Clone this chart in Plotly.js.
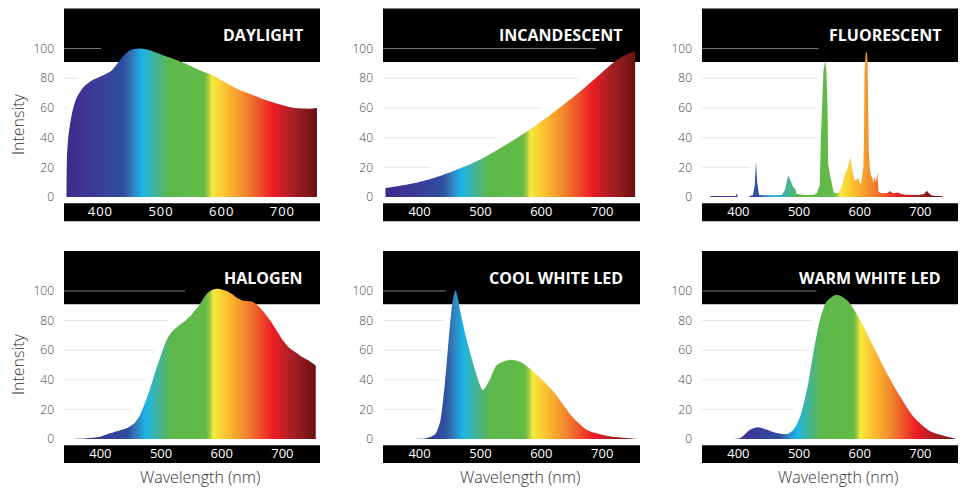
<!DOCTYPE html>
<html><head><meta charset="utf-8">
<script src="https://cdn.plot.ly/plotly-3.0.1.min.js"></script>
<style>
html,body{margin:0;padding:0;background:#fff;}
#chart{width:964px;height:488px;}
.xtick text{letter-spacing:1px;}
</style>
</head><body><div id="chart"></div>
<script>
// ---- data ----
const panelTitles = ['DAYLIGHT','INCANDESCENT','FLUORESCENT','HALOGEN','COOL WHITE LED','WARM WHITE LED'];
const xTickVals = [400, 500, 600, 700];
const yTickVals = [0, 20, 40, 60, 80, 100];

const daylightX = [344,345,347,353,361,372,386,405,418,430,440,450,462,475,484,500,521,545,566,587,605,620,636,652,675,690,708,720,734,745,757];
const daylightY = [0,28,40,56,67,74,78.5,82,85,91,96,99,100,99.5,98.5,96,93,89,85,81.6,77.5,74,71,68.6,65,63,61,60,59.6,59.5,60];

const incandX = [344,370,398,425,452,480,508,535,562,590,616,645,672,695,715,735,748,754];
const incandY = [6,7.7,10,13,16.8,21.5,27,33.5,40.3,48,55.8,65,74,82.2,89.5,95,97.3,98];

const fluorX = [354,396,397,398,399,418,419,424,427,429,431,434,440,460,472,477,480,482,486,490,494,496,510,525,530,534,536,538,540,543,545,547,548,551,554,557,562,566,570,574,576,579,581,583,585,587,589,592,595,597,600,602,604,606,607,608,610,612,613,614,615,617,619,621,622,624,626,628,629,631,636,645,650,655,663,668,675,697,706,709,711,714,718,724,737];
const fluorY = [0.6,0.6,2.7,0.6,0,0,0.8,1.2,8,23.7,10,1.5,1.2,1.2,1.5,5,12,14.8,11,7,5,2,1.3,1.5,3,8,40,70,84,92,85,60,22,15,8,3,2.5,3,6.5,12,16,18,22,24,27,19,16,11,12,13,10,8.5,14,20,40,85,97.5,97,90,64,30,18,14,13,9,14,10,13,16.5,3.5,2.5,2.5,4,2.5,3,2,1.5,1.3,2,3.5,4,2.5,1.2,0.7,0.5];

const halogenX = [353,377,399,416,430,443,452,457,465,476,485,493,501,509,517,526,537,548,556,564,570,575,583,592,600,608,617,625,635,645,652,660,668,680,691,702,713,724,734,745,755];
const halogenY = [0,0.5,1.5,3.8,5.5,7.2,9.5,11,16,27,38,48.6,58,66.7,72,75.5,79,83,87,91,95,98,100.5,101.5,101,100,98,95.5,93.5,93,92.5,90,86.5,80,73,66,61,58,55,52.5,49.5];

const coolX = [347,387,412,426,434,442,450,455,459,463,467,478,492,504,514,527,549,566,587,620,653,676,709,758];
const coolY = [0,0,0.7,3.4,12,39,77,95,100.5,95,86,66,45.5,33,39,50,53.6,52,45.5,32,14,5.9,2,0];

const warmX = [381,403,419,433,447,463,480,491,502,513,523.5,534.5,545.6,562,578.5,600.5,622.4,644.5,666.4,688,716,760];
const warmY = [0,0.7,6.3,8,6.3,4.1,3.4,6.3,15.3,33.3,58,80.6,93,97.5,94,80.6,62.6,44.6,28.8,15.3,5.2,0];

const seriesX = [daylightX, incandX, fluorX, halogenX, coolX, warmX];
const seriesY = [daylightY, incandY, fluorY, halogenY, coolY, warmY];

// ---- style ----
const smoothPanels = [true, true, false, true, true, true];
const gradientSpan = [null, null, [342, 732], null, null, null];
const spectrum = [
  [0.00,'#40298c'],[0.12,'#3a3c98'],[0.23,'#2f4f9f'],[0.26,'#3577b7'],
  [0.303,'#1ab5e7'],[0.35,'#3fb3a2'],[0.41,'#5cb84a'],[0.55,'#63ba46'],
  [0.567,'#a5cc42'],[0.58,'#f4ea3b'],[0.63,'#fdc430'],[0.71,'#f38a2c'],
  [0.825,'#ec1d25'],[0.91,'#a21f22'],[1.00,'#6a1010']
];
const XR = [340, 762], YR = [0, 127];
const colDom = [[64,320],[383,640],[702,958]];
const rowDom = [[197,8.5],[439,251]];
const W = 964, H = 488;
const FONT = '"Open Sans", "Liberation Sans", sans-serif';

function crossX(xs, ys, lvl){
  for(let i=0;i<xs.length;i++){
    if(ys[i] >= lvl){
      if(i===0) return xs[0];
      const t = (lvl - ys[i-1])/(ys[i]-ys[i-1]);
      return xs[i-1] + t*(xs[i]-xs[i-1]);
    }
  }
  return null;
}

const traces = [], shapes = [], annotations = [];
const layout = {
  width: W, height: H, margin:{l:0,r:0,t:0,b:0},
  paper_bgcolor:'#fff', plot_bgcolor:'rgba(0,0,0,0)',
  showlegend:false, hovermode:false, font:{family:FONT}
};

for(let p=0;p<6;p++){
  const r = Math.floor(p/3), c = p%3, n = p+1;
  const xa = n===1 ? 'x' : 'x'+n, ya = n===1 ? 'y' : 'y'+n;
  const xk = n===1 ? 'xaxis' : 'xaxis'+n, yk = n===1 ? 'yaxis' : 'yaxis'+n;
  layout[xk] = {
    domain:[colDom[c][0]/W, colDom[c][1]/W], range:XR, anchor:ya,
    tickmode:'array', tickvals:xTickVals, ticks:'', showgrid:false, zeroline:false, showline:false,
    tickfont:{family:FONT, size:13, color:'#ffffff'}, ticklabelstandoff:5, fixedrange:true
  };
  layout[yk] = {
    domain:[1-rowDom[r][0]/H, 1-rowDom[r][1]/H], range:YR, anchor:xa,
    tickmode:'array', tickvals:yTickVals, ticks:'', showgrid:false, zeroline:false, showline:false,
    tickfont:{family:FONT, size:12, color:'#444', weight:300}, ticklabelstandoff:9, fixedrange:true
  };
  shapes.push({type:'rect', xref:xa+' domain', yref:ya+' domain', x0:0, x1:1, y0:91/127, y1:1,
               fillcolor:'#000', line:{width:0}, layer:'below'});
  shapes.push({type:'rect', xref:xa+' domain', yref:ya+' domain', x0:0, x1:1, y0:-0.128, y1:-0.033,
               fillcolor:'#000', line:{width:0}, layer:'below'});
  const xs = seriesX[p], ys = seriesY[p];
  yTickVals.forEach(L=>{
    if(L===0) return;
    const cx = crossX(xs, ys, Math.min(L,90)-7);
    if(cx===null) return;
    const end = cx - 8;
    if(end <= XR[0]) return;
    traces.push({type:'scatter', mode:'lines', x:[XR[0], end], y:[L, L], xaxis:xa, yaxis:ya,
      line:{color: L>=100 ? '#7a7a7a' : '#e6e6e6', width:1}, hoverinfo:'skip'});
  });
  const fg = {type:'horizontal', colorscale:spectrum};
  if(gradientSpan[p]){ fg.start = gradientSpan[p][0]; fg.stop = gradientSpan[p][1]; }
  traces.push({type:'scatter', mode:'lines', x:xs, y:ys, xaxis:xa, yaxis:ya,
    line:{width:0, shape: smoothPanels[p] ? 'spline' : 'linear', smoothing:0.7},
    fill:'tozeroy', fillgradient:fg, hoverinfo:'skip'});
  annotations.push({xref:xa+' domain', yref:ya+' domain', x:1, y:109/127, xanchor:'right', yanchor:'middle',
    xshift:-15, showarrow:false, text:panelTitles[p],
    font:{family:FONT, size:16, color:'#fff', weight:700}});
}
[125, 365].forEach(py=>{
  annotations.push({xref:'paper', yref:'paper', x:18/W, y:1-py/H, xanchor:'center', yanchor:'middle',
    textangle:-90, showarrow:false, text:'Intensity', font:{family:FONT, size:16, color:'#333', weight:300}});
});
[200,520,838].forEach(px=>{
  annotations.push({xref:'paper', yref:'paper', x:px/W, y:1-477/H, xanchor:'center', yanchor:'middle',
    showarrow:false, text:'Wavelength (nm)', font:{family:FONT, size:16, color:'#333', weight:300}});
});
layout.shapes = shapes;
layout.annotations = annotations;

Plotly.newPlot('chart', traces, layout, {displayModeBar:false, staticPlot:true});
</script>
</body></html>
